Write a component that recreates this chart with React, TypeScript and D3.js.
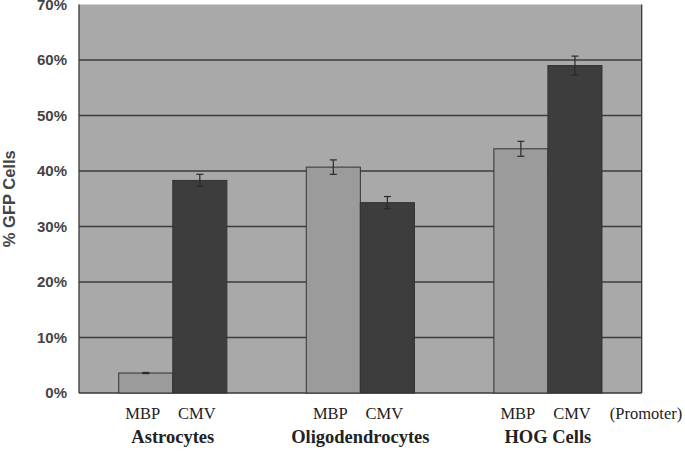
import React, { useEffect, useRef } from "react";
import * as d3 from "d3";

const groups = ["Astrocytes", "Oligodendrocytes", "HOG Cells"];
const promoters = ["MBP", "CMV"];
const mbpValues = [3.6, 40.7, 44.0];
const cmvValues = [38.3, 34.3, 59.0];
const mbpErrors = [0.1, 1.3, 1.35];
const cmvErrors = [1.1, 1.1, 1.7];
const yTicks = [0, 10, 20, 30, 40, 50, 60, 70];

const width = 685;
const height = 451;
const margin = { top: 4.5, right: 43.3, bottom: 58, left: 79 };

const App = () => {
  const ref = useRef<SVGSVGElement | null>(null);

  useEffect(() => {
    document.body.style.margin = "0";
    const svg = d3.select(ref.current);
    svg.selectAll("*").remove();

    const x0 = d3
      .scaleBand()
      .domain(groups)
      .range([margin.left, width - margin.right])
      .paddingInner(0.4235)
      .paddingOuter(0.2118);

    const x1 = d3.scaleBand().domain(promoters).range([0, x0.bandwidth()]);

    const y = d3
      .scaleLinear()
      .domain([0, 70])
      .range([height - margin.bottom, margin.top]);

    const rows = groups.flatMap((g, i) => [
      { group: g, promoter: "MBP", value: mbpValues[i], err: mbpErrors[i] },
      { group: g, promoter: "CMV", value: cmvValues[i], err: cmvErrors[i] },
    ]);

    // plot background
    svg
      .append("rect")
      .attr("x", margin.left)
      .attr("y", margin.top)
      .attr("width", width - margin.right - margin.left)
      .attr("height", y(0) - margin.top)
      .attr("fill", "#a9a9a9");

    // gridlines
    svg
      .append("g")
      .selectAll("line")
      .data(yTicks.filter((t) => t > 0 && t < 70))
      .join("line")
      .attr("x1", margin.left)
      .attr("x2", width - margin.right)
      .attr("y1", (d) => y(d))
      .attr("y2", (d) => y(d))
      .attr("stroke", "#3c3c3c")
      .attr("stroke-width", 1.3);

    // frame: left, right, bottom
    const frame = svg.append("g").attr("stroke", "#3a3a3a").attr("stroke-width", 1.3);
    frame
      .append("line")
      .attr("x1", margin.left)
      .attr("x2", margin.left)
      .attr("y1", margin.top)
      .attr("y2", y(0));
    frame
      .append("line")
      .attr("x1", width - margin.right)
      .attr("x2", width - margin.right)
      .attr("y1", margin.top)
      .attr("y2", y(0));

    // bars
    svg
      .append("g")
      .selectAll("rect")
      .data(rows)
      .join("rect")
      .attr("x", (d) => x0(d.group)! + x1(d.promoter)!)
      .attr("y", (d) => y(d.value))
      .attr("width", x1.bandwidth())
      .attr("height", (d) => y(0) - y(d.value))
      .attr("fill", (d) => (d.promoter === "MBP" ? "#9b9b9b" : "#3d3d3d"))
      .attr("stroke", "#333")
      .attr("stroke-width", 1);

    frame
      .append("line")
      .attr("x1", margin.left)
      .attr("x2", width - margin.right)
      .attr("y1", y(0))
      .attr("y2", y(0));

    // error bars
    const eb = svg
      .append("g")
      .attr("stroke", "#2a2a2a")
      .attr("stroke-width", 1.2)
      .selectAll("g")
      .data(rows)
      .join("g")
      .attr(
        "transform",
        (d) => `translate(${x0(d.group)! + x1(d.promoter)! + x1.bandwidth() / 2},0)`
      );
    eb.append("line")
      .attr("y1", (d) => y(d.value + d.err))
      .attr("y2", (d) => y(d.value - d.err));
    eb.append("line")
      .attr("x1", -3.5)
      .attr("x2", 3.5)
      .attr("y1", (d) => y(d.value + d.err))
      .attr("y2", (d) => y(d.value + d.err));
    eb.append("line")
      .attr("x1", -3.5)
      .attr("x2", 3.5)
      .attr("y1", (d) => y(d.value - d.err))
      .attr("y2", (d) => y(d.value - d.err));

    // y tick labels
    svg
      .append("g")
      .selectAll("text")
      .data(yTicks)
      .join("text")
      .attr("x", 67)
      .attr("y", (d) => y(d))
      .attr("dy", "0.36em")
      .attr("text-anchor", "end")
      .attr("font-family", "Liberation Sans, Arial, sans-serif")
      .attr("font-weight", "bold")
      .attr("font-size", 15)
      .attr("fill", "#444")
      .text((d) => `${d}%`);

    // y axis title
    svg
      .append("text")
      .attr("transform", `translate(15,${(margin.top + y(0)) / 2}) rotate(-90)`)
      .attr("text-anchor", "middle")
      .attr("font-family", "Liberation Sans, Arial, sans-serif")
      .attr("font-weight", "bold")
      .attr("font-size", 16.5)
      .attr("fill", "#444")
      .text("% GFP Cells");

    // promoter labels
    svg
      .append("g")
      .selectAll("text")
      .data(rows)
      .join("text")
      .attr("x", (d) => x0(d.group)! + x1(d.promoter)! + x1.bandwidth() / 2 - 3)
      .attr("y", 419)
      .attr("text-anchor", "middle")
      .attr("font-family", "Liberation Serif, Times New Roman, serif")
      .attr("font-size", 16.5)
      .attr("fill", "#222")
      .text((d) => d.promoter);

    svg
      .append("text")
      .attr("x", 646)
      .attr("y", 419)
      .attr("text-anchor", "middle")
      .attr("font-family", "Liberation Serif, Times New Roman, serif")
      .attr("font-size", 16.5)
      .attr("fill", "#222")
      .text("(Promoter)");

    // group labels
    svg
      .append("g")
      .selectAll("text")
      .data(groups)
      .join("text")
      .attr("x", (d) => x0(d)! + x0.bandwidth() / 2)
      .attr("y", 443)
      .attr("text-anchor", "middle")
      .attr("font-family", "Liberation Serif, Times New Roman, serif")
      .attr("font-weight", "bold")
      .attr("font-size", 18.5)
      .attr("fill", "#222")
      .text((d) => d);
  }, []);

  return (
    <svg
      ref={ref}
      width={width}
      height={height}
      style={{ display: "block", background: "#fff" }}
    />
  );
};

export default App;
